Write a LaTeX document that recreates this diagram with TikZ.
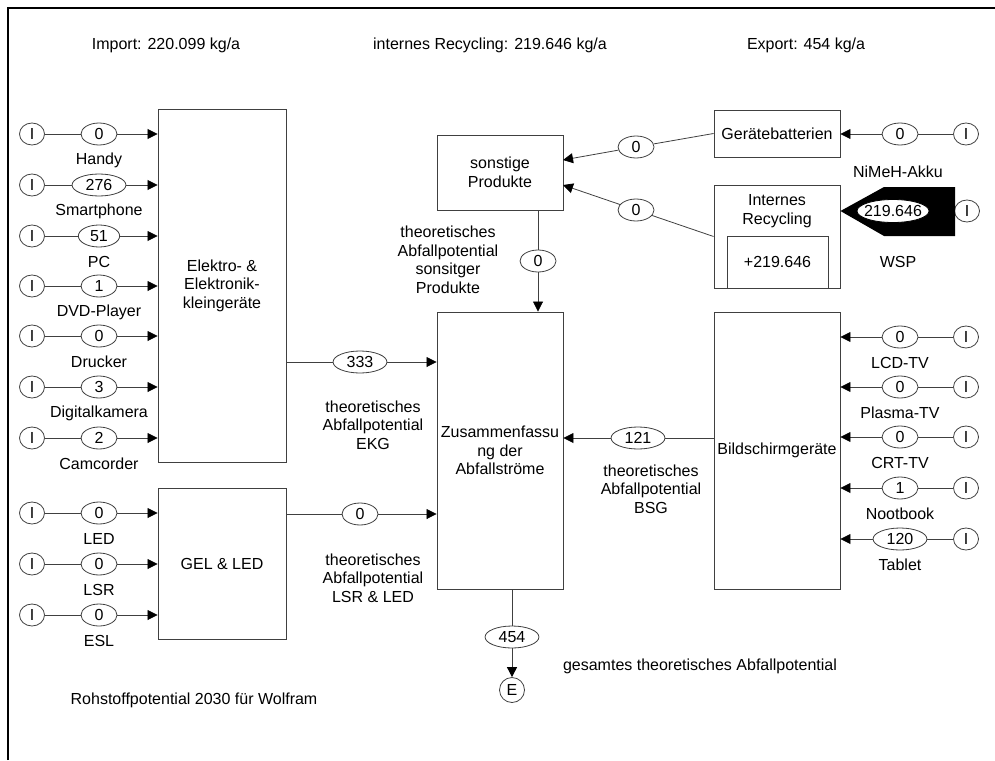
\documentclass[tikz,border=0pt]{standalone}
\usepackage{fontspec}
\setmainfont{Liberation Sans}
\usetikzlibrary{arrows.meta,shapes.geometric}
\definecolor{lc}{gray}{0.25}
\begin{document}
\begin{tikzpicture}[x=1pt,y=-1pt,
  font=\fontsize{16}{18.5}\selectfont,
  box/.style={draw=lc,line width=0.9pt,rectangle,inner sep=0pt,align=center},
  val/.style={ellipse,draw=lc,line width=0.8pt,fill=white,inner xsep=5.7pt,inner ysep=0pt,minimum width=36pt,minimum height=22pt},
  src/.style={ellipse,draw=lc,line width=0.8pt,fill=white,inner sep=0pt,minimum width=25pt,minimum height=22pt},
  lbl/.style={inner sep=0pt,align=center},
  con/.style={draw=lc,line width=0.8pt},
  arr/.style={con,-{Triangle[length=10pt,width=10pt,color=black]}},
]
\path[use as bounding box] (0,0) rectangle (995,760);
% frame
\draw[line width=1.5pt] (8,760) -- (8,8) -- (995,8);

% top texts
\node[lbl] (imp) at (166,45) {Import: 220.099 kg/a};
\node[lbl] (irc) at (490,45) {internes Recycling: 219.646 kg/a};
\node[lbl] (exp) at (806,45) {Export: 454 kg/a};

% boxes
\node[box,minimum width=128pt,minimum height=353pt] (ekg) at (222,285.5) {Elektro- \&\\Elektronik-\\kleingeräte};
\node[box,minimum width=128pt,minimum height=151pt] (gel) at (222,563.5) {GEL \& LED};
\node[box,minimum width=126pt,minimum height=277pt] (zus) at (500,450.5) {Zusammenfassu\\ng der\\Abfallströme};
\node[box,minimum width=126pt,minimum height=75pt] (son) at (500,172.5) {sonstige\\Produkte};
\node[box,minimum width=126pt,minimum height=277pt] (bsg) at (777,450.5) {Bildschirmgeräte};
\node[box,minimum width=126pt,minimum height=47pt] (ger) at (777,133.5) {Gerätebatterien};
\node[box,minimum width=126pt,minimum height=103pt] (irb) at (777,236.5) {};
\node[lbl] (irt) at (777,211) {Internes\\Recycling};
\node[box,minimum width=101pt,minimum height=52pt] (iri) at (777.5,262) {+219.646};

% left inputs to EKG
\foreach \yy/\vv/\lab [count=\i] in {134/0/Handy,185/276/Smartphone,236/51/PC,286/1/DVD-Player,336/0/Drucker,387/3/Digitalkamera,438/2/Camcorder} {
  \node[src] (li\i) at (32,\yy) {I};
  \node[val] (lv\i) at (99,\yy) {\vv};
  \node[lbl] (ll\i) at (99,\yy+26) {\lab};
  \draw[con] (li\i) -- (lv\i);
  \draw[arr] (lv\i) -- (lv\i -| ekg.west);
}
% left inputs to GEL
\foreach \yy/\vv/\lab [count=\i] in {513/0/LED,564/0/LSR,615/0/ESL} {
  \node[src] (gi\i) at (32,\yy) {I};
  \node[val] (gv\i) at (99,\yy) {\vv};
  \node[lbl] (gl\i) at (99,\yy+26) {\lab};
  \draw[con] (gi\i) -- (gv\i);
  \draw[arr] (gv\i) -- (gv\i -| gel.west);
}
% right inputs to BSG
\foreach \yy/\vv/\lab [count=\i] in {337/0/LCD-TV,387/0/Plasma-TV,437/0/CRT-TV,488/1/Nootbook,539/120/Tablet} {
  \node[src] (ri\i) at (966,\yy) {I};
  \node[val] (rv\i) at (900,\yy) {\vv};
  \node[lbl] (rl\i) at (900,\yy+26) {\lab};
  \draw[con] (ri\i) -- (rv\i);
  \draw[arr] (rv\i) -- (rv\i -| bsg.east);
}

% EKG -> Zus
\node[val] (v333) at (360,362) {333};
\draw[con] (v333 -| ekg.east) -- (v333);
\draw[arr] (v333) -- (v333 -| zus.west);
\node[lbl] (tekg) at (373,425) {theoretisches\\Abfallpotential\\EKG};
% GEL -> Zus
\node[val] (vgel) at (360,514) {0};
\draw[con] (vgel -| gel.east) -- (vgel);
\draw[arr] (vgel) -- (vgel -| zus.west);
\node[lbl] (tgel) at (373,578) {theoretisches\\Abfallpotential\\LSR \& LED};
% BSG -> Zus
\node[val] (v121) at (638,438) {121};
\draw[con] (v121 -| bsg.west) -- (v121);
\draw[arr] (v121) -- (v121 -| zus.east);
\node[lbl] (tbsg) at (651,489) {theoretisches\\Abfallpotential\\BSG};
% sonstige -> Zus
\node[val] (vson) at (538,261) {0};
\draw[con] (vson |- son.south) -- (vson);
\draw[arr] (vson) -- (vson |- zus.north);
\node[lbl] (tson) at (448,260) {theoretisches\\Abfallpotential\\sonsitger\\Produkte};

% Geraetebatterien input
\node[src] (bi) at (966,134) {I};
\node[val] (bv) at (900,134) {0};
\draw[con] (bi) -- (bv);
\draw[arr] (bv) -- (bv -| ger.east);
\node[lbl] (tnim) at (898,172) {NiMeH-Akku};

% Geraetebatterien -> sonstige
\coordinate (s1) at (563,160);
\coordinate (s2) at (563,185);
\node[val] (vg) at (636,147) {0};
\draw[con] (ger.west) -- (vg);
\draw[arr] (vg) -- (s1);
% internes Recycling -> sonstige
\node[val] (vi) at (636,210) {0};
\draw[con] (irb.west) -- (vi);
\draw[arr] (vi) -- (s2);

% WSP thick arrow
\node[src] (wi) at (967,211) {I};
\coordinate (wt) at (irb.east |- wi);
\fill[black] (wt) -- (884,187) -- (955,187) -- (955,236) -- (884,236) -- cycle;
\node[ellipse,fill=white,draw=black,line width=0.8pt,inner xsep=0pt,inner ysep=0pt,minimum width=72pt,minimum height=23pt] (wv) at (893,211) {\makebox[42pt]{219.646}};
\node[lbl] (twsp) at (898,262) {WSP};

% output
\node[val] (v454) at (512,637) {454};
\node[circle,draw=lc,line width=0.8pt,inner sep=0pt,minimum size=25pt] (E) at (512,690) {E};
\draw[con] (v454 |- zus.south) -- (v454);
\draw[arr] (v454) -- (E);
\node[lbl] (tges) at (700,666) {gesamtes theoretisches Abfallpotential};
\node[lbl] (troh) at (194,700) {Rohstoffpotential 2030 für Wolfram};
\end{tikzpicture}
\end{document}
